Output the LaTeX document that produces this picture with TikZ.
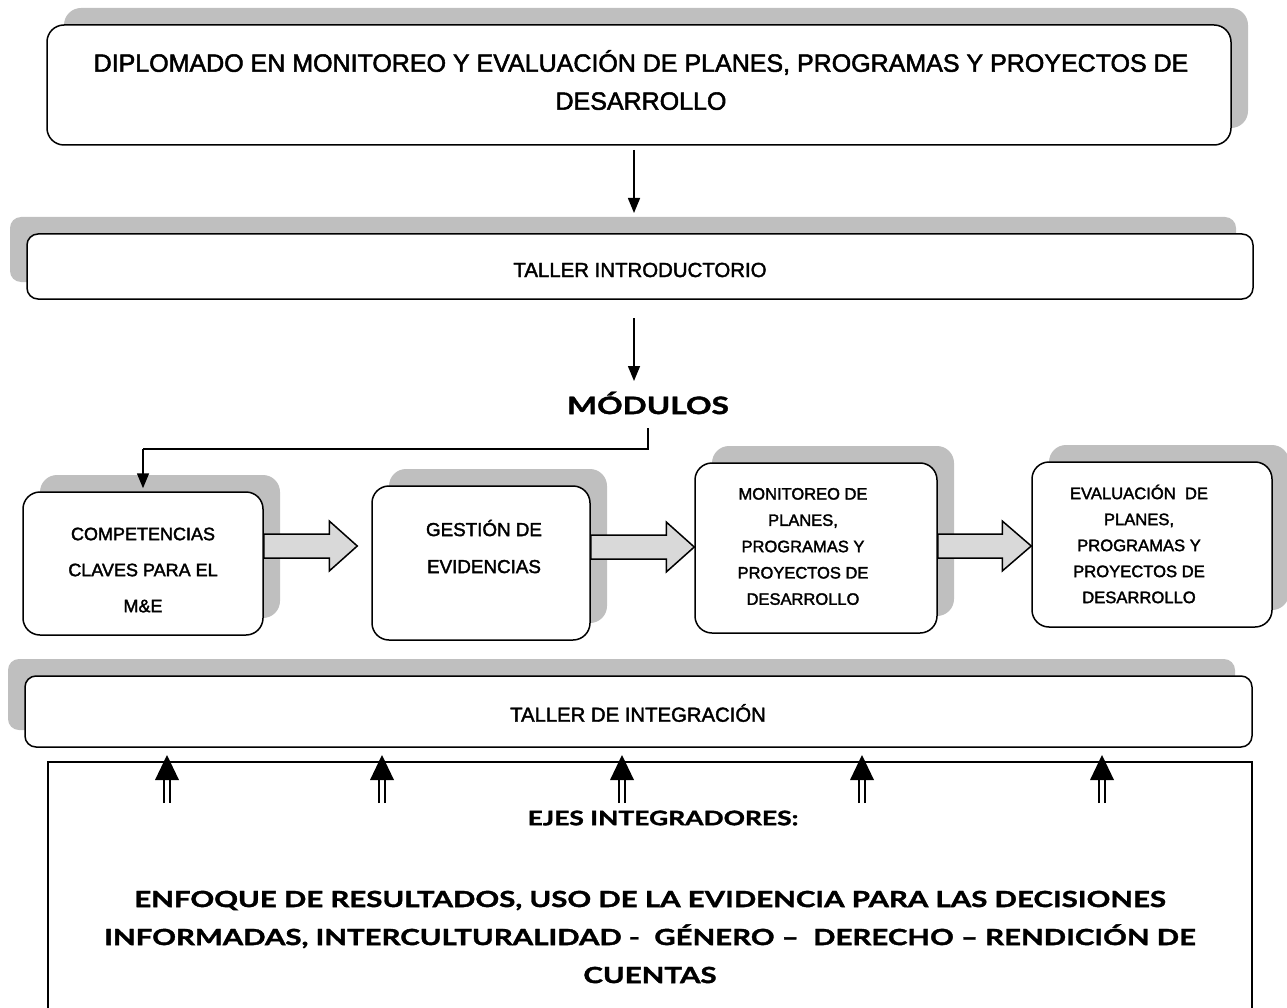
\documentclass[tikz,border=0pt]{standalone}
\usepackage{fontspec}
\setmainfont{Liberation Sans}[FakeBold=2]
\newfontfamily\hd{Lato}[FakeStretch=1.32, FakeBold=1.6]
\usetikzlibrary{shadows,arrows.meta,calc}
\definecolor{shadowgray}{HTML}{BFBFBF}
\definecolor{arrowgray}{HTML}{D9D9D9}
\tikzset{
  box/.style={draw=black, line width=1.5pt, fill=white, rounded corners=#1, inner sep=0pt},
  box/.default=17pt,
  shadowUR/.style={general shadow={fill=shadowgray, shadow xshift=17pt, shadow yshift=17pt}},
  shadowUL/.style={general shadow={fill=shadowgray, shadow xshift=-17pt, shadow yshift=17pt}},
  txt/.style={align=center, inner sep=0pt},
  arr/.style={line width=1.5pt, -{Triangle[length=15pt,width=12pt]}},
  line/.style={line width=1.5pt},
  blockarrow/.style={draw=black, line width=1.5pt, fill=arrowgray, line join=miter},
}
\newcommand\fsz[2]{\fontsize{#1}{#2}\selectfont}
% block arrow from node #1 east to node #2 west (minus gap #5), centre y #3, head length #4
\newcommand\blockarr[5]{%
  \draw[blockarrow] let \p1=(#1.east), \p2=([xshift=-#5pt]#2.west) in
    (\x1,-#3pt+12pt) -- ({\x2-#4pt},-#3pt+12pt) -- ({\x2-#4pt},-#3pt+25pt) --
    (\x2,-#3pt) -- ({\x2-#4pt},-#3pt-25pt) -- ({\x2-#4pt},-#3pt-12pt) --
    (\x1,-#3pt-12pt) -- cycle;}
\begin{document}
\begin{tikzpicture}[x=1pt, y=-1pt]
\useasboundingbox (0,0) rectangle (1287,1008);

% title box
\node[box, shadowUR, minimum width=1184pt, minimum height=120pt] (top) at (639,85) {};
\node[txt, font=\fsz{25}{38}] (toptxt) at (641,80)
  {DIPLOMADO EN MONITOREO Y EVALUACIÓN DE PLANES, PROGRAMAS Y PROYECTOS DE\\DESARROLLO};

% taller introductorio
\node[box=11pt, shadowUL, minimum width=1226pt, minimum height=65pt] (intro) at (640,266.5) {};
\node[txt, font=\fsz{20.4}{24}] (introtxt) at (640,270) {TALLER INTRODUCTORIO};

\coordinate (a1s) at (634,150);
\coordinate (a1e) at (634,213);
\draw[arr] (a1s) -- (a1e);
\coordinate (a2s) at (634,318);
\coordinate (a2e) at (634,381);
\draw[arr] (a2s) -- (a2e);

% modulos
\node[txt, font=\hd\bfseries\fsz{24}{30}] (mod) at (648,403) {MÓDULOS};

% module boxes
\node[box, shadowUR, minimum width=240pt, minimum height=143pt] (m1) at (143,563.5) {};
\node[txt, font=\fsz{18}{36}] (m1t) at (143,570) {COMPETENCIAS\\CLAVES PARA EL\\M\&E};

\node[box, shadowUR, minimum width=218pt, minimum height=154pt] (m2) at (481,563) {};
\node[txt, font=\fsz{18.8}{37}] (m2t) at (484,546.5) {GESTIÓN DE\\EVIDENCIAS};

\node[box, shadowUR, minimum width=242pt, minimum height=170pt] (m3) at (816,548) {};
\node[txt, font=\fsz{16.5}{26.3}] (m3t) at (803,546.5) {MONITOREO DE\\PLANES,\\PROGRAMAS Y\\PROYECTOS DE\\DESARROLLO};

\node[box, shadowUR, minimum width=240pt, minimum height=165pt] (m4) at (1152,544.5) {};
\node[txt, font=\fsz{16.6}{26}] (m4t) at (1139,544) {EVALUACIÓN\ \ DE\\PLANES,\\PROGRAMAS Y\\PROYECTOS DE\\DESARROLLO};

\coordinate (mc0) at (648,428);
\coordinate (mc1) at (648,449);
\draw[line] (mc0) -- (mc1) -- (mc1 -| m1.north);
\draw[arr] (mc1 -| m1.north) -- ([yshift=3pt]m1.north);

\blockarr{m1}{m2}{546}{28}{14}
\blockarr{m2}{m3}{547}{28}{0}
\blockarr{m3}{m4}{546}{29}{0}

% taller de integracion
\node[box=11pt, shadowUL, minimum width=1227pt, minimum height=71pt] (integ) at (638.5,711.5) {};
\node[txt, font=\fsz{20.3}{24}] (integtxt) at (638,713) {TALLER DE INTEGRACIÓN};

% ejes box (open at bottom)
\coordinate (ebl) at (48,1010);
\coordinate (etl) at (48,762);
\coordinate (etr) at (1252,762);
\coordinate (ebr) at (1252,1010);
\draw[line width=2pt] (ebl) -- (etl) -- (etr) -- (ebr);

\foreach \xx [count=\i] in {167,382,622,862,1102}{
  \coordinate (d\i s) at (\xx,803);
  \coordinate (d\i b) at (\xx,780);
  \coordinate (d\i t) at (\xx,755);
  \draw[line width=1.3pt] ([xshift=-3pt]d\i s) -- ([xshift=-3pt]d\i b);
  \draw[line width=1.3pt] ([xshift=3pt]d\i s) -- ([xshift=3pt]d\i b);
  \fill ([xshift=-12pt]d\i b) -- (d\i t) -- ([xshift=12pt]d\i b) -- cycle;
}

\node[txt, font=\hd\bfseries\fsz{20}{26}] (ejes) at (663,818) {EJES INTEGRADORES:};
\node[txt, font=\hd\bfseries\fsz{22.3}{38}] (ejestxt) at (650,937)
  {ENFOQUE DE RESULTADOS, USO DE LA EVIDENCIA PARA LAS DECISIONES\\
   INFORMADAS, INTERCULTURALIDAD -\ \ GÉNERO –\ \ DERECHO – RENDICIÓN DE\\
   CUENTAS};
\end{tikzpicture}
\end{document}
